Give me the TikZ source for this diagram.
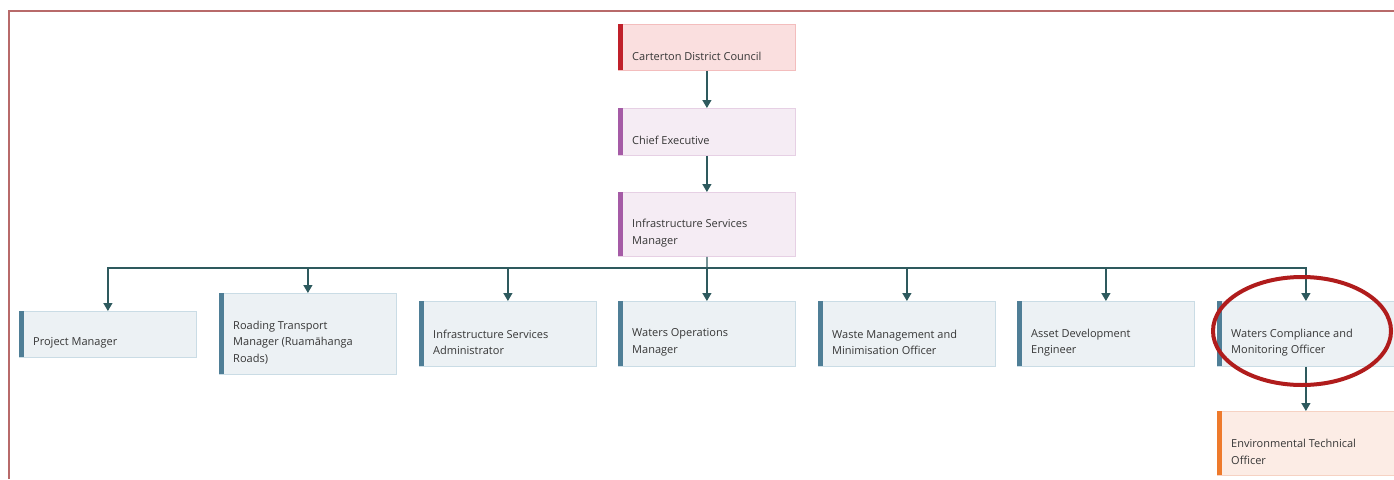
\documentclass[tikz,border=0pt]{standalone}
\usepackage{fontspec}
\setmainfont{Open Sans}
\usetikzlibrary{arrows.meta,positioning,calc}
\definecolor{conn}{HTML}{2E5A5E}
\definecolor{txt}{HTML}{363636}
\definecolor{frame}{HTML}{B86A6A}
\definecolor{ringred}{HTML}{B01C1C}
\definecolor{redfill}{HTML}{FADFDF}
\definecolor{redline}{HTML}{F3BDBD}
\definecolor{redbar}{HTML}{C0202A}
\definecolor{purfill}{HTML}{F5ECF4}
\definecolor{purline}{HTML}{E6D0E4}
\definecolor{purbar}{HTML}{A55BA6}
\definecolor{bluefill}{HTML}{ECF1F4}
\definecolor{blueline}{HTML}{CADCE5}
\definecolor{bluebar}{HTML}{4F7E96}
\definecolor{orfill}{HTML}{FCECE5}
\definecolor{orline}{HTML}{F6D2C3}
\definecolor{orbar}{HTML}{EE7A2C}
\tikzset{
  box/.style={draw=#1line, fill=#1fill, line width=0.8pt, rectangle, minimum width=177pt, anchor=north west, inner sep=0pt},
  bar/.style={fill=#1bar, draw=none},
  lbl/.style={anchor=west, inner sep=0pt, align=left, text=txt, font=\fontsize{11}{16.5}\selectfont},
  conn/.style={draw=conn, line width=1.3pt, -{Triangle[width=9pt,length=8pt]}},
}
\newcommand{\orgbox}[7]{% name, color, x, y, h, text
  \node[box=#2, minimum height=#5pt] (#1) at (#3,#4) {};
  \fill[bar=#2] (#1.north west) rectangle ++(5,#5);
  \node[lbl] (#1-t) at ($(#1.west)+(14,8.5)$) {#6};
}
\begin{document}
\begin{tikzpicture}[x=1pt,y=-1pt]
\useasboundingbox (0,0) rectangle (1394,479);
\fill[white] (0,0) rectangle (1394,479);
\draw[frame, line width=2pt] (9,479) -- (9,11) -- (1394,11);

\orgbox{cdc}{red}{618}{24}{46}{Carterton District Council}{}
\orgbox{ce}{pur}{618}{108}{47}{Chief Executive}{}
\orgbox{ism}{pur}{618}{192}{64}{Infrastructure Services\\Manager}{}

\orgbox{pm}{blue}{19}{311}{46}{Project Manager}{}
\orgbox{rtm}{blue}{219}{293}{81}{Roading Transport\\Manager (Ruamāhanga\\Roads)}{}
\orgbox{isa}{blue}{419}{301}{65}{Infrastructure Services\\Administrator}{}
\orgbox{wom}{blue}{618}{301}{65}{Waters Operations\\Manager}{}
\orgbox{wmm}{blue}{818}{301}{65}{Waste Management and\\Minimisation Officer}{}
\orgbox{ade}{blue}{1017}{301}{65}{Asset Development\\Engineer}{}
\orgbox{wcm}{blue}{1217}{301}{65}{Waters Compliance and\\Monitoring Officer}{}
\orgbox{eto}{or}{1217}{411}{64}{Environmental Technical\\Officer}{}

\draw[conn] (cdc.south) -- (ce.north);
\draw[conn] (ce.south) -- (ism.north);
\coordinate (bus) at (707,268);
\draw[draw=conn, line width=1.3pt] (ism.south) -- (bus);
\draw[draw=conn, line width=1.6pt] (108,268) -- (1305,268);
\foreach \n in {pm,rtm,isa,wom,wmm,ade,wcm}{
  \draw[conn] (bus) -| (\n.north);
}
\draw[conn] (wcm.south) -- (eto.north);

\draw[ringred, line width=4pt] (1302,331) ellipse [x radius=89, y radius=54];
\end{tikzpicture}
\end{document}
